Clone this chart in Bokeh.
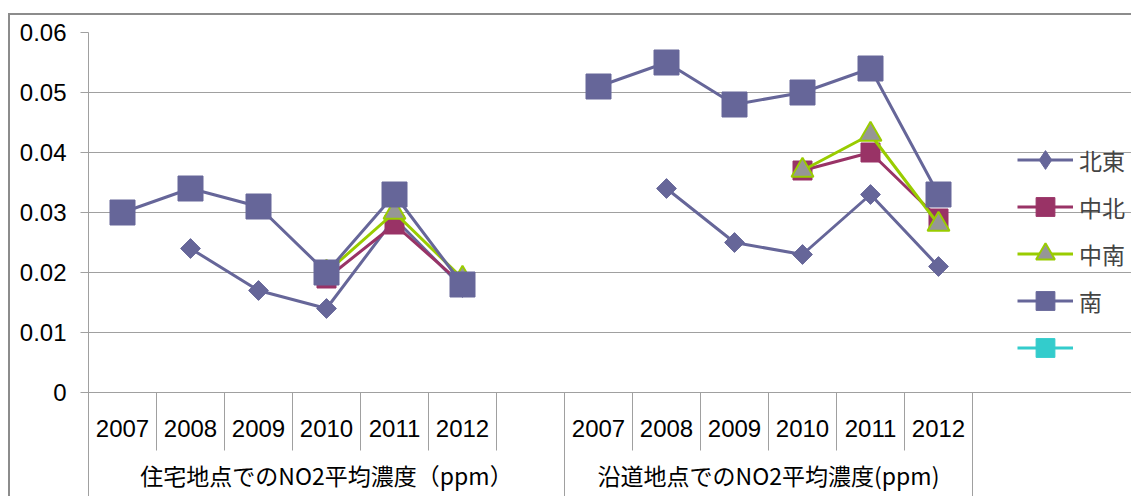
import numpy as np
from bokeh.plotting import figure
from bokeh.models import (Range1d, LinearAxis, FixedTicker, Legend, LegendItem,
                          ColumnDataSource, Grid)
from bokeh.core.properties import value
from bokeh.embed import file_html
from bokeh.resources import INLINE

# ---------------- data ----------------
years = ["2007", "2008", "2009", "2010", "2011", "2012"]
groups = ["住宅地点でのNO2平均濃度（ppm）", "沿道地点でのNO2平均濃度(ppm)"]
series_names = ["北東", "中北", "中南", "南", " "]

hokuto_res = [None, 0.024, 0.017, 0.014, 0.029, 0.0175]
hokuto_road = [None, 0.034, 0.025, 0.023, 0.033, 0.021]
chuhoku_res = [None, None, None, 0.019, 0.028, 0.018]
chuhoku_road = [None, None, None, 0.037, 0.040, 0.029]
chunan_res = [None, None, None, 0.020, 0.030, 0.019]
chunan_road = [None, None, None, 0.037, 0.043, 0.028]
minami_res = [0.030, 0.034, 0.031, 0.020, 0.033, 0.018]
minami_road = [0.051, 0.055, 0.048, 0.050, 0.054, 0.033]
blank_res = [None] * 6
blank_road = [None] * 6

y_ticks = [0, 0.01, 0.02, 0.03, 0.04, 0.05, 0.06]
y_labels = ["0", "0.01", "0.02", "0.03", "0.04", "0.05", "0.06"]

# category slots: group 1 years + one empty slot, then group 2 years
slots = [(groups[0], y) for y in years] + [(groups[0], "")] + [(groups[1], y) for y in years]
xs = [i + 0.5 for i in range(len(slots))]
n_slots = len(slots)
n0 = sum(1 for s in slots if s[0] == groups[0])


def combine(res, road):
    vals = list(res) + [None] + list(road)
    return np.array([np.nan if v is None else v for v in vals], dtype=float)


# ---------------- layout (pixels) ----------------
W, H = 1123, 483            # canvas (page offset 10, 15 because of margin + border)
LEFT, TOP = 78, 17          # frame left / top inside canvas
SLOT_PX = 68                # width of one category slot
VAL_PX = 360                # pixels for the value span 0 .. 0.06
y_max = y_ticks[-1]
px_per_val = VAL_PX / y_max
frame_w = W - LEFT
frame_h = H - TOP
x_end = frame_w / SLOT_PX
y_start = y_max - frame_h / px_per_val


def below(px):
    """data value that lies px pixels below the zero line"""
    return -px / px_per_val


GRID = "#A0A0A0"
C_PURPLE = "#666699"
C_PINK = "#993366"
C_GREEN = "#99CC00"
C_GRAY = "#969696"
C_CYAN = "#33CCCC"

p = figure(width=W, height=H, x_range=Range1d(0, x_end), y_range=Range1d(y_start, y_max),
           x_axis_type=None, y_axis_type=None, output_backend="svg", toolbar_location=None,
           min_border_left=LEFT, min_border_right=0, min_border_top=TOP, min_border_bottom=0)
p.outline_line_color = None
p.background_fill_color = "white"
p.border_fill_color = "white"
p.margin = (13, 0, 0, 8)
p.styles = {"border-top": "2px solid #8c8c8c", "border-left": "2px solid #8c8c8c"}

# y axis
yaxis = LinearAxis(ticker=FixedTicker(ticks=y_ticks),
                   major_label_overrides={t: l for t, l in zip(y_ticks, y_labels)})
yaxis.axis_line_color = GRID
yaxis.major_tick_line_color = GRID
yaxis.major_tick_out = 8
yaxis.major_tick_in = 0
yaxis.minor_tick_line_color = None
yaxis.major_label_standoff = 14
yaxis.major_label_text_font = "Liberation Sans"
yaxis.major_label_text_font_size = "24px"
yaxis.major_label_text_color = "black"
p.add_layout(yaxis, "left")

p.add_layout(Grid(dimension=1, ticker=FixedTicker(ticks=y_ticks), bounds=(0, n_slots),
                  grid_line_color=GRID, grid_line_width=1))

# category axis area: separators and labels
inner_b = [b for b in range(1, n_slots) if b != n0]
outer_b = [0, n0, n_slots]
p.segment(x0=inner_b, y0=[0] * len(inner_b), x1=inner_b, y1=[below(58)] * len(inner_b),
          line_color=GRID, line_width=1)
p.segment(x0=outer_b, y0=[0] * 3, x1=outer_b, y1=[y_start] * 3, line_color=GRID, line_width=1)

yr_x = [xs[i] for i, s in enumerate(slots) if s[1] != ""]
yr_t = [s[1] for s in slots if s[1] != ""]
p.text(x=yr_x, y=[below(36)] * len(yr_x), text=yr_t, text_align="center", text_baseline="middle",
       text_font=value("Liberation Sans"), text_font_size="24px", text_color="black")
grp_x = [n0 / 2, n0 + (n_slots - n0) / 2]
p.text(x=grp_x, y=[below(82)] * 2, text=groups, text_align="center", text_baseline="middle",
       text_font=value("Noto Sans CJK JP"), text_font_size="23px", text_color="black")

# series
src_h = ColumnDataSource(dict(x=xs, y=combine(hokuto_res, hokuto_road)))
src_cn = ColumnDataSource(dict(x=xs, y=combine(chuhoku_res, chuhoku_road)))
src_cs = ColumnDataSource(dict(x=xs, y=combine(chunan_res, chunan_road)))
src_m = ColumnDataSource(dict(x=xs, y=combine(minami_res, minami_road)))
src_b = ColumnDataSource(dict(x=xs, y=combine(blank_res, blank_road)))

l_h = p.line("x", "y", source=src_h, line_color=C_PURPLE, line_width=3)
p.scatter("x", "y", source=src_h, marker="square", angle=np.pi / 4, size=14,
          fill_color=C_PURPLE, line_color=C_PURPLE, line_width=1)
l_cn = p.line("x", "y", source=src_cn, line_color=C_PINK, line_width=3)
s_cn = p.scatter("x", "y", source=src_cn, marker="square", size=19,
                 fill_color=C_PINK, line_color=C_PINK, line_width=1)
l_cs = p.line("x", "y", source=src_cs, line_color=C_GREEN, line_width=3)
s_cs = p.scatter("x", "y", source=src_cs, marker="triangle", size=22,
                 fill_color=C_GRAY, line_color=C_GREEN, line_width=2)
l_m = p.line("x", "y", source=src_m, line_color=C_PURPLE, line_width=3)
s_m = p.scatter("x", "y", source=src_m, marker="square", size=25,
                fill_color=C_PURPLE, line_color=C_PURPLE, line_width=1)
l_b = p.line("x", "y", source=src_b, line_color=C_CYAN, line_width=3)
s_b = p.scatter("x", "y", source=src_b, marker="square", size=22,
                fill_color=C_CYAN, line_color=C_CYAN, line_width=1)

# legend-only diamond for 北東 (its data has no values, so it draws nothing in the chart)
s_h_leg = p.scatter("x", "y", source=ColumnDataSource(dict(x=xs, y=combine(blank_res, blank_road))),
                    marker="diamond", size=18, fill_color=C_PURPLE, line_color=C_PURPLE)

legend = Legend(items=[
    LegendItem(label=value(series_names[0]), renderers=[l_h, s_h_leg]),
    LegendItem(label=value(series_names[1]), renderers=[l_cn, s_cn]),
    LegendItem(label=value(series_names[2]), renderers=[l_cs, s_cs]),
    LegendItem(label=value(series_names[3]), renderers=[l_m, s_m]),
    LegendItem(label=value(series_names[4]), renderers=[l_b, s_b]),
], location=(929, 127))
legend.glyph_width = 56
legend.glyph_height = 47
legend.label_height = 47
legend.spacing = 0
legend.padding = 0
legend.margin = 0
legend.border_line_color = None
legend.background_fill_alpha = 0
legend.label_text_font = "Noto Sans CJK JP"
legend.label_text_font_size = "23px"
legend.label_standoff = 6
p.add_layout(legend)

open("out.html", "w").write(file_html(p, INLINE))
